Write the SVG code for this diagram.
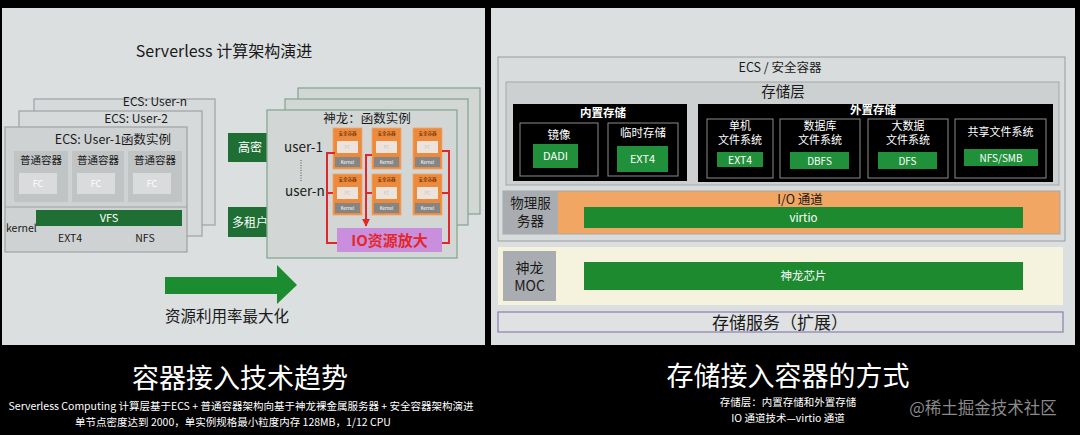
<svg xmlns="http://www.w3.org/2000/svg" width="1080" height="435" viewBox="0 0 1080 435">
<defs>
<style>
text{font-family:"Noto Sans CJK SC","Liberation Sans",sans-serif;}
.panel{fill:#dcdfe0;}
.ecs{fill:#d7dadb;stroke:#9fa2a4;stroke-width:1.2;}
.ecs1{fill:#cfd2d3;stroke:#9fa2a4;stroke-width:1.2;}
.pc{fill:#c1c4c5;}
.fc{fill:#d9dbdc;}
.sl{fill:#d2d6d5;stroke:#86a893;stroke-width:1.3;}
.gd{fill:#1f6f34;}
.gr{fill:#21903a;}
.gb{fill:#1d8a30;}
.blk{fill:#000;}
.sub{fill:#000;stroke:#8c8c8c;stroke-width:1;}
.or{fill:#ee8a3c;stroke:#f3a566;stroke-width:0.8;}
.orfc{fill:#ebe3dc;}
.kn{fill:#858585;}
.red{fill:none;stroke:#e3262a;stroke-width:2;}
.t{fill:#1a1a1a;}
.w{fill:#ffffff;}
.lbl{fill:#a9adb1;}
</style>
<marker id="ra" viewBox="0 0 10 10" refX="9" refY="5" markerWidth="4" markerHeight="4" orient="auto"><path d="M0,0 L10,5 L0,10 z" fill="#e3262a"/></marker>
</defs>
<rect width="1080" height="435" fill="#000"/>
<!-- left panel -->
<g id="left-panel">
<rect class="panel" x="2" y="8" width="483" height="337"/>
<text x="224" y="57" font-size="16" text-anchor="middle" class="t">Serverless 计算架构演进</text>
</g>
<g id="ecs-user-n"><rect class="ecs" x="34" y="99" width="181" height="126"/><text x="155" y="106" font-size="12" text-anchor="middle" class="t">ECS: User-n</text></g>
<g id="ecs-user-2"><rect class="ecs" x="19" y="111" width="183" height="125"/><text x="136" y="123" font-size="12" text-anchor="middle" class="t">ECS: User-2</text></g>
<g id="ecs-user-1">
<rect class="ecs1" x="5" y="127" width="182" height="125"/>
<text x="113" y="144" font-size="12.5" text-anchor="middle" class="t">ECS: User-1函数实例</text>
<line x1="5" y1="207" x2="187" y2="207" stroke="#9fa2a4" stroke-width="1"/>
<text x="6" y="232" font-size="10.5" class="t">kernel</text>
<text x="70" y="242" font-size="10.5" text-anchor="middle" class="t">EXT4</text>
<text x="145" y="242" font-size="10.5" text-anchor="middle" class="t">NFS</text>
</g>
<g id="pc1"><rect class="pc" x="14" y="151" width="54" height="51"/><text x="41" y="164" font-size="10.5" text-anchor="middle" class="t">普通容器</text><rect class="fc" x="19" y="173" width="38" height="21"/><text x="38" y="187" font-size="9" text-anchor="middle" class="w">FC</text></g>
<g id="pc2"><rect class="pc" x="72" y="151" width="52" height="51"/><text x="98" y="164" font-size="10.5" text-anchor="middle" class="t">普通容器</text><rect class="fc" x="77" y="173" width="38" height="21"/><text x="96" y="187" font-size="9" text-anchor="middle" class="w">FC</text></g>
<g id="pc3"><rect class="pc" x="128" y="151" width="54" height="51"/><text x="155" y="164" font-size="10.5" text-anchor="middle" class="t">普通容器</text><rect class="fc" x="133" y="173" width="38" height="21"/><text x="152" y="187" font-size="9" text-anchor="middle" class="w">FC</text></g>
<g id="vfs"><rect class="gd" x="36" y="210" width="146" height="16"/><text x="109" y="222" font-size="11" text-anchor="middle" class="w">VFS</text></g>
<g id="gaomi"><rect class="gd" x="228" y="133" width="45" height="29"/><text x="250" y="152" font-size="12" text-anchor="middle" class="w">高密</text></g>
<g id="duozuhu"><rect class="gd" x="228" y="207" width="45" height="30"/><text x="250" y="227" font-size="12" text-anchor="middle" class="w">多租户</text></g>
<g id="sl-back"><rect class="sl" x="298" y="88" width="182" height="126"/></g>
<g id="sl-mid"><rect class="sl" x="285" y="99" width="183" height="126"/></g>
<g id="sl-front">
<rect class="sl" x="267" y="110" width="190" height="148"/>
<text x="367" y="123" font-size="12.5" text-anchor="middle" class="t">神龙：函数实例</text>
<text x="284" y="152" font-size="13.5" class="t">user-1</text>
<text x="285" y="196" font-size="13.5" class="t">user-n</text>
<line x1="301" y1="160" x2="301" y2="182" stroke="#555" stroke-width="1" stroke-dasharray="1,1.5"/>
</g>
<g id="sc11"><rect class="or" x="333" y="128" width="29" height="41"/><text x="347.5" y="135" font-size="4.5" text-anchor="middle" fill="#4a2000">安全容器</text><rect class="orfc" x="337" y="141" width="21" height="12"/><text x="347.5" y="149" font-size="4.5" text-anchor="middle" fill="#bbb">FC</text><rect class="kn" x="335" y="157" width="25" height="10"/><text x="347.5" y="164" font-size="4.5" text-anchor="middle" class="w">Kernel</text></g>
<g id="sc12"><rect class="or" x="372" y="128" width="29" height="41"/><text x="386.5" y="135" font-size="4.5" text-anchor="middle" fill="#4a2000">安全容器</text><rect class="orfc" x="376" y="141" width="21" height="12"/><text x="386.5" y="149" font-size="4.5" text-anchor="middle" fill="#bbb">FC</text><rect class="kn" x="374" y="157" width="25" height="10"/><text x="386.5" y="164" font-size="4.5" text-anchor="middle" class="w">Kernel</text></g>
<g id="sc13"><rect class="or" x="413" y="128" width="29" height="41"/><text x="427.5" y="135" font-size="4.5" text-anchor="middle" fill="#4a2000">安全容器</text><rect class="orfc" x="417" y="141" width="21" height="12"/><text x="427.5" y="149" font-size="4.5" text-anchor="middle" fill="#bbb">FC</text><rect class="kn" x="415" y="157" width="25" height="10"/><text x="427.5" y="164" font-size="4.5" text-anchor="middle" class="w">Kernel</text></g>
<g id="sc21"><rect class="or" x="333" y="174" width="29" height="41"/><text x="347.5" y="181" font-size="4.5" text-anchor="middle" fill="#4a2000">安全容器</text><rect class="orfc" x="337" y="187" width="21" height="12"/><text x="347.5" y="195" font-size="4.5" text-anchor="middle" fill="#bbb">FC</text><rect class="kn" x="335" y="203" width="25" height="10"/><text x="347.5" y="210" font-size="4.5" text-anchor="middle" class="w">Kernel</text></g>
<g id="sc22"><rect class="or" x="372" y="174" width="29" height="41"/><text x="386.5" y="181" font-size="4.5" text-anchor="middle" fill="#4a2000">安全容器</text><rect class="orfc" x="376" y="187" width="21" height="12"/><text x="386.5" y="195" font-size="4.5" text-anchor="middle" fill="#bbb">FC</text><rect class="kn" x="374" y="203" width="25" height="10"/><text x="386.5" y="210" font-size="4.5" text-anchor="middle" class="w">Kernel</text></g>
<g id="sc23"><rect class="or" x="413" y="174" width="29" height="41"/><text x="427.5" y="181" font-size="4.5" text-anchor="middle" fill="#4a2000">安全容器</text><rect class="orfc" x="417" y="187" width="21" height="12"/><text x="427.5" y="195" font-size="4.5" text-anchor="middle" fill="#bbb">FC</text><rect class="kn" x="415" y="203" width="25" height="10"/><text x="427.5" y="210" font-size="4.5" text-anchor="middle" class="w">Kernel</text></g>
<g id="io-amp"><rect x="337" y="228" width="105" height="24" fill="#c98fdc"/><text x="389.5" y="246" font-size="15" font-weight="bold" text-anchor="middle" fill="#e3262a">IO资源放大</text></g>
<g id="connectors">
<path class="red" d="M335,153 H327 V243 H337 M327,193 H333"/>
<path class="red" d="M372,155 H366 V226" marker-end="url(#ra)"/>
<path class="red" d="M366,193 H372"/>
<path class="red" d="M442,151 H449 V243 H442 M449,193 H442"/>
</g>
<g id="big-arrow">
<polygon points="165,277 277,277 277,265 297,285 277,304 277,294 165,294" fill="#1c8c30"/>
<text x="227" y="322" font-size="15.5" text-anchor="middle" class="t">资源利用率最大化</text>
</g>
<!-- right panel -->
<g id="right-panel"><rect class="panel" x="491" y="8" width="584" height="337"/></g>
<g id="ecs-safe"><rect x="498" y="57" width="567" height="184" fill="#d9dcdd" stroke="#9a9da0" stroke-width="1"/><text x="780" y="72" font-size="12.5" text-anchor="middle" class="t">ECS / 安全容器</text></g>
<g id="storage-layer"><rect x="506" y="82" width="553" height="103" fill="#cdd0d1" stroke="#a5a8aa" stroke-width="1"/><text x="783" y="97" font-size="14.5" text-anchor="middle" class="t">存储层</text></g>
<g id="builtin"><rect class="blk" x="513" y="104" width="174" height="77"/><text x="603" y="117" font-size="11.5" font-weight="bold" text-anchor="middle" class="w">内置存储</text></g>
<g id="mirror"><rect class="sub" x="520" y="123" width="78" height="53"/><text x="559" y="139" font-size="11.5" text-anchor="middle" class="w">镜像</text><rect class="gr" x="533" y="144" width="45" height="24"/><text x="555.5" y="160" font-size="11" text-anchor="middle" class="w">DADI</text></g>
<g id="temp"><rect class="sub" x="608" y="123" width="70" height="53"/><text x="643" y="137" font-size="11.5" text-anchor="middle" class="w">临时存储</text><rect class="gr" x="617" y="146" width="51" height="26"/><text x="642.5" y="163" font-size="11" text-anchor="middle" class="w">EXT4</text></g>
<g id="external"><rect class="blk" x="698" y="104" width="355" height="78"/><text x="873" y="114" font-size="11.5" font-weight="bold" text-anchor="middle" class="w">外置存储</text></g>
<g id="single-fs"><rect class="sub" x="707" y="119" width="66" height="59"/><text x="740" y="130" font-size="11" text-anchor="middle" class="w">单机</text><text x="740" y="144" font-size="11" text-anchor="middle" class="w">文件系统</text><rect class="gr" x="717" y="152" width="46" height="15"/><text x="740" y="163.5" font-size="10.5" text-anchor="middle" class="w">EXT4</text></g>
<g id="db-fs"><rect class="sub" x="780" y="119" width="80" height="59"/><text x="820" y="130" font-size="11" text-anchor="middle" class="w">数据库</text><text x="820" y="144" font-size="11" text-anchor="middle" class="w">文件系统</text><rect class="gr" x="790" y="152" width="59" height="17"/><text x="819.5" y="164.5" font-size="10" text-anchor="middle" class="w">DBFS</text></g>
<g id="bigdata-fs"><rect class="sub" x="868" y="119" width="80" height="59"/><text x="908" y="130" font-size="11" text-anchor="middle" class="w">大数据</text><text x="908" y="144" font-size="11" text-anchor="middle" class="w">文件系统</text><rect class="gr" x="878" y="152" width="59" height="17"/><text x="907.5" y="164.5" font-size="10" text-anchor="middle" class="w">DFS</text></g>
<g id="share-fs"><rect class="sub" x="955" y="119" width="91" height="59"/><text x="1000.5" y="136" font-size="11" text-anchor="middle" class="w">共享文件系统</text><rect class="gr" x="964" y="149" width="74" height="17"/><text x="1001" y="161.5" font-size="10" text-anchor="middle" class="w">NFS/SMB</text></g>
<g id="io-channel"><rect x="503" y="191" width="557" height="43" fill="#f2a664" stroke="#a5a8aa" stroke-width="1"/><rect class="lbl" x="503" y="191" width="55" height="43"/><text x="530.5" y="208" font-size="13.5" text-anchor="middle" class="t">物理服</text><text x="530.5" y="226" font-size="13.5" text-anchor="middle" class="t">务器</text><text x="800" y="204" font-size="12.5" text-anchor="middle" class="t">I/O 通道</text></g>
<g id="virtio"><rect class="gb" x="584" y="207" width="439" height="21"/><text x="803.5" y="222" font-size="11.5" text-anchor="middle" class="w">virtio</text></g>
<g id="moc"><rect x="498" y="247" width="565" height="58" fill="#f5f3dd"/><rect class="lbl" x="503" y="251" width="53" height="50"/><text x="529.5" y="273" font-size="14" text-anchor="middle" class="t">神龙</text><text x="529.5" y="291" font-size="14" text-anchor="middle" class="t">MOC</text></g>
<g id="chip"><rect class="gb" x="584" y="262" width="439" height="28"/><text x="803.5" y="280" font-size="11.5" text-anchor="middle" class="w">神龙芯片</text></g>
<g id="storage-service"><rect x="498" y="312" width="565" height="20" fill="#dfe1e3" stroke="#8a7db0" stroke-width="1.2"/><text x="780" y="329" font-size="17" text-anchor="middle" class="t">存储服务（扩展）</text></g>
<!-- captions -->
<g id="captions">
<text x="240" y="388" font-size="27" text-anchor="middle" class="w">容器接入技术趋势</text>
<text x="241" y="410" font-size="10.5" text-anchor="middle" class="w">Serverless Computing 计算层基于ECS + 普通容器架构向基于神龙裸金属服务器 + 安全容器架构演进</text>
<text x="233" y="426" font-size="10.5" text-anchor="middle" class="w">单节点密度达到 2000，单实例规格最小粒度内存 128MB，1/12 CPU</text>
<text x="788" y="386" font-size="27" text-anchor="middle" class="w">存储接入容器的方式</text>
<text x="788" y="406" font-size="10.5" text-anchor="middle" class="w">存储层：内置存储和外置存储</text>
<text x="788" y="422" font-size="10.5" text-anchor="middle" class="w">IO 通道技术—virtio 通道</text>
<text x="983" y="414" font-size="16.5" text-anchor="middle" fill="#8a8a8a">@稀土掘金技术社区</text>
</g>
</svg>
